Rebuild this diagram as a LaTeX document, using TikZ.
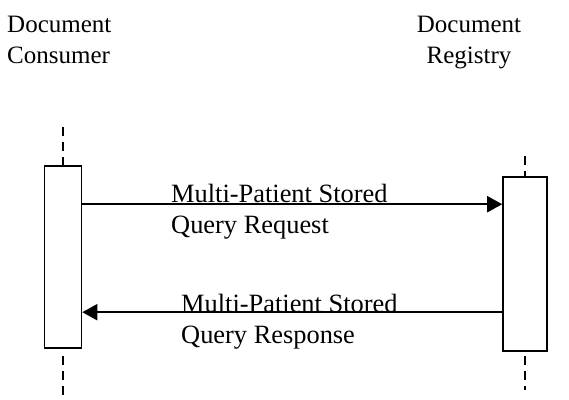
\documentclass[tikz,border=0pt]{standalone}
\usepackage{fontspec}
\setmainfont{Liberation Serif}
\usetikzlibrary{arrows.meta,positioning}
\tikzset{
  actor/.style={font=\fontsize{25}{31}\selectfont,inner sep=0pt},
  actbox/.style={draw,line width=1.6pt,fill=white,inner sep=0pt},
  life/.style={line width=1.2pt,dash pattern=on 9pt off 6pt},
  msg/.style={-{Triangle[length=15pt,width=16pt]},line width=2pt},
  msglabel/.style={font=\fontsize{26.4}{31}\selectfont,inner sep=0pt,align=left},
}
\begin{document}
\begin{tikzpicture}[x=1pt,y=-1pt]
\useasboundingbox (0,0) rectangle (569,399);
% actors
\node[actor,align=left,anchor=base west]   (consumer) at (7,63)  {Document\\Consumer};
\node[actor,align=center,anchor=base]      (registry) at (469,63) {Document\\Registry};
% activation boxes
\node[actbox,minimum width=37pt,minimum height=182pt] (cbox) at (63,257) {};
\node[actbox,minimum width=44pt,minimum height=174pt] (rbox) at (525,264) {};
% lifelines
\coordinate (ctop) at (63,127);
\coordinate (cbot) at (63,399);
\coordinate (rtop) at (525,156);
\coordinate (rbot) at (525,390);
\draw[life] (ctop) -- (cbox.north);
\draw[life] (cbox.south) ++(0,7) -- (cbot);
\draw[life] (rtop) -- (rbox.north);
\draw[life] (rbox.south) ++(0,4) -- (rbot);
% messages
\coordinate (req) at ([yshift=-39pt]cbox.north east);
\coordinate (resp) at ([yshift=-136pt]rbox.north west);
\draw[msg] (req) -- (req -| rbox.west);
\draw[msg] (resp) -- (resp -| cbox.east);
\node[msglabel,anchor=base west] (reqlabel)  at (171,233) {Multi-Patient Stored\\Query Request};
\node[msglabel,anchor=base west] (resplabel) at (181,343) {Multi-Patient Stored\\Query Response};
\end{tikzpicture}
\end{document}
